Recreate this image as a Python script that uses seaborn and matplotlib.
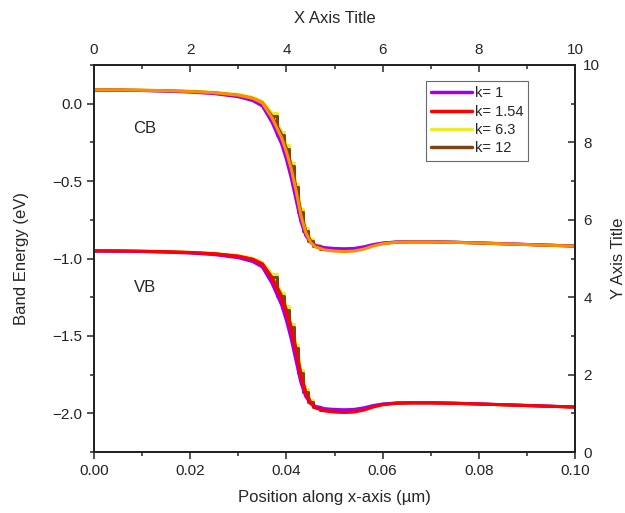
import matplotlib
matplotlib.use("Agg")
import matplotlib.pyplot as plt
import seaborn as sns
import pandas as pd
from matplotlib.ticker import MultipleLocator
from matplotlib.lines import Line2D

sns.set_style("ticks")
plt.rcParams['font.family'] = ['Liberation Sans', 'DejaVu Sans']

# ---- data ----
pos = [0.000, 0.005, 0.010, 0.015, 0.020, 0.025, 0.030, 0.033, 0.035, 0.037,
       0.039, 0.040, 0.041, 0.042, 0.043, 0.044, 0.045, 0.046, 0.048, 0.050,
       0.052, 0.054, 0.056, 0.058, 0.060, 0.063, 0.066, 0.070, 0.075, 0.080,
       0.085, 0.090, 0.095, 0.100]

cb_orange = [0.090, 0.089, 0.087, 0.084, 0.079, 0.071, 0.055, 0.035, 0.005, -0.09,
             -0.22, -0.31, -0.42, -0.56, -0.72, -0.83, -0.895, -0.925, -0.945, -0.952,
             -0.955, -0.952, -0.940, -0.920, -0.905, -0.895, -0.893, -0.893, -0.896, -0.900,
             -0.905, -0.910, -0.915, -0.920]
cb_purple = [0.088, 0.087, 0.085, 0.081, 0.075, 0.065, 0.045, 0.020, -0.015, -0.12,
             -0.26, -0.36, -0.48, -0.62, -0.76, -0.85, -0.895, -0.915, -0.930, -0.935,
             -0.937, -0.935, -0.925, -0.910, -0.900, -0.893, -0.892, -0.892, -0.895, -0.899,
             -0.904, -0.909, -0.914, -0.919]
cb_yellow = [0.090, 0.089, 0.087, 0.085, 0.080, 0.073, 0.060, 0.042, 0.015, -0.06,
             -0.18, -0.27, -0.38, -0.52, -0.68, -0.80, -0.875, -0.915, -0.940, -0.948,
             -0.950, -0.948, -0.935, -0.915, -0.902, -0.894, -0.892, -0.892, -0.895, -0.900,
             -0.905, -0.910, -0.915, -0.920]
cb_brown = [0.089, 0.088, 0.086, 0.083, 0.078, 0.070, 0.054, 0.034, 0.005, -0.08,
            -0.20, -0.29, -0.40, -0.54, -0.70, -0.82, -0.885, -0.920, -0.940, -0.945,
            -0.947, -0.945, -0.933, -0.914, -0.902, -0.894, -0.892, -0.892, -0.895, -0.900,
            -0.905, -0.910, -0.915, -0.920]

vb_red = [-0.950, -0.951, -0.953, -0.956, -0.961, -0.969, -0.985, -1.005, -1.035, -1.13,
          -1.26, -1.35, -1.46, -1.60, -1.76, -1.87, -1.935, -1.965, -1.985, -1.992,
          -1.995, -1.992, -1.980, -1.960, -1.945, -1.935, -1.933, -1.933, -1.936, -1.940,
          -1.945, -1.950, -1.955, -1.960]
vb_purple = [-0.952, -0.953, -0.955, -0.959, -0.965, -0.975, -0.995, -1.020, -1.055, -1.16,
             -1.30, -1.40, -1.52, -1.66, -1.80, -1.89, -1.935, -1.955, -1.970, -1.975,
             -1.977, -1.975, -1.965, -1.950, -1.940, -1.933, -1.932, -1.932, -1.935, -1.939,
             -1.944, -1.949, -1.954, -1.959]
vb_yellow = [-0.950, -0.951, -0.953, -0.955, -0.960, -0.967, -0.980, -0.998, -1.025, -1.10,
             -1.22, -1.31, -1.42, -1.56, -1.72, -1.84, -1.915, -1.955, -1.980, -1.988,
             -1.990, -1.988, -1.975, -1.955, -1.942, -1.934, -1.932, -1.932, -1.935, -1.940,
             -1.945, -1.950, -1.955, -1.960]
vb_brown = [-0.951, -0.952, -0.954, -0.957, -0.962, -0.970, -0.986, -1.006, -1.035, -1.12,
            -1.24, -1.33, -1.44, -1.58, -1.74, -1.86, -1.925, -1.960, -1.980, -1.985,
            -1.987, -1.985, -1.973, -1.954, -1.942, -1.934, -1.932, -1.932, -1.935, -1.940,
            -1.945, -1.950, -1.955, -1.960]

legend_labels = ["k= 1", "k= 1.54", "k= 6.3", "k= 12"]
legend_colors = ["#a100e6", "#ff0000", "#ecec2e", "#7b4513"]
orange = "#ff8c00"

x_ticks = [0.00, 0.02, 0.04, 0.06, 0.08, 0.10]
y_ticks = [0.0, -0.5, -1.0, -1.5, -2.0]
aux_ticks = [0, 2, 4, 6, 8, 10]

# ---- figure ----
fig = plt.figure(figsize=(6.25, 5.13), dpi=100)
ax = fig.add_axes([0.1504, 0.1189, 0.7696, 0.7544])

lw = 2.2
def draw(y, color, steps=False):
    df = pd.DataFrame({"x": pos, "y": y})
    sns.lineplot(data=df, x="x", y="y", ax=ax, color=color, lw=lw,
                 sort=False, estimator=None)
    if steps:
        # the stepped look of the coarse-mesh curves inside the drop
        seg = df.iloc[9:19]
        sns.lineplot(data=seg, x="x", y="y", ax=ax, color=color, lw=lw,
                     sort=False, estimator=None, drawstyle="steps-mid")

# CB
draw(cb_yellow, legend_colors[2], steps=True)
draw(cb_brown, legend_colors[3], steps=True)
draw(cb_purple, legend_colors[0])
draw(cb_orange, orange)
# VB
draw(vb_yellow, legend_colors[2], steps=True)
draw(vb_brown, legend_colors[3], steps=True)
draw(vb_purple, legend_colors[0])
draw(vb_red, legend_colors[1])

ax.set_xlim(0, 0.10)
ax.set_ylim(-2.25, 0.25)
ax.set_xticks(x_ticks)
ax.set_xticklabels([f"{v:.2f}" for v in x_ticks])
ax.set_yticks(y_ticks)
ax.set_yticklabels([f"{v:.1f}".replace("-", "\u2212") for v in y_ticks])
ax.xaxis.set_minor_locator(MultipleLocator(0.01))
ax.yaxis.set_minor_locator(MultipleLocator(0.25))
ax.tick_params(which="major", direction="out", length=5, width=1.1, labelsize=11, colors="#222222")
ax.tick_params(which="minor", direction="out", length=3, width=1.1)
ax.set_xlabel("Position along x-axis (\u00b5m)", fontsize=12, labelpad=9)
ax.set_ylabel("Band Energy (eV)", fontsize=12, labelpad=17)
for s in ax.spines.values():
    s.set_linewidth(1.1)
    s.set_color("#222222")

ax.text(0.0106, -0.16, "CB", fontsize=12, ha="center", va="center")
ax.text(0.0106, -1.19, "VB", fontsize=12, ha="center", va="center")

handles = [Line2D([0], [0], color=c, lw=2.5) for c in legend_colors]
leg = ax.legend(handles, legend_labels, loc="upper right", bbox_to_anchor=(0.903, 0.958),
                fontsize=10.5, frameon=True, fancybox=False, handlelength=2.8,
                handletextpad=0.2, labelspacing=0.3, borderpad=0.35, borderaxespad=0)
leg.get_frame().set_edgecolor("#444444")
leg.get_frame().set_linewidth(0.8)

# right axis
axr = ax.twinx()
axr.set_ylim(0, 10)
axr.set_yticks(aux_ticks)
axr.yaxis.set_minor_locator(MultipleLocator(1))
axr.tick_params(which="major", direction="in", length=5, width=1.1, labelsize=11, pad=6)
axr.tick_params(which="minor", direction="in", length=3, width=1.1)
axr.set_ylabel("Y Axis Title", fontsize=12, labelpad=8)

# top axis
axt = ax.twiny()
axt.set_xlim(0, 10)
axt.set_xticks(aux_ticks)
axt.xaxis.set_minor_locator(MultipleLocator(1))
axt.tick_params(which="major", direction="in", length=5, width=1.1, labelsize=11, pad=6)
axt.tick_params(which="minor", direction="in", length=3, width=1.1)
axt.set_xlabel("X Axis Title", fontsize=12, labelpad=14)

for a in (axr, axt):
    for s in a.spines.values():
        s.set_linewidth(1.1)
        s.set_color("#222222")

fig.savefig("out.png", dpi=100)
